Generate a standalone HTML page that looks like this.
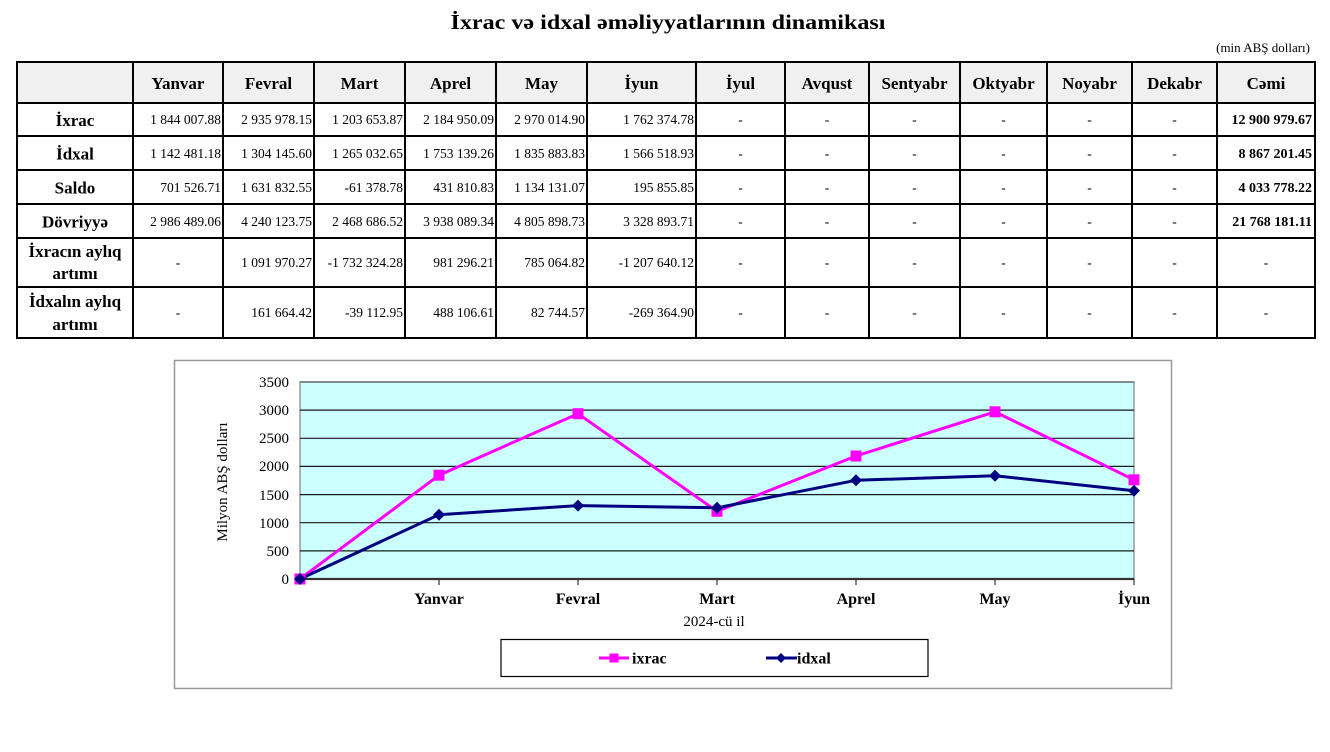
<!DOCTYPE html>
<html><head><meta charset="utf-8"><style>
html,body{margin:0;padding:0;background:#fff;}
svg{display:block;}
text{font-family:"Liberation Serif",serif;fill:#000;}
.h{font-weight:bold;font-size:17px;text-anchor:middle;}
.n{font-size:13.5px;text-anchor:end;}
.b{font-size:14px;font-weight:bold;text-anchor:end;}
.d{font-size:13.5px;text-anchor:middle;}
.t{font-size:15px;text-anchor:end;}
.x{font-size:16px;font-weight:bold;text-anchor:middle;}
</style></head><body>
<svg width="1330" height="752" viewBox="0 0 1330 752" xmlns="http://www.w3.org/2000/svg">
<rect width="1330" height="752" fill="#fff"/>
<text x="1309" y="0" style="font-size:18px;font-weight:bold;text-anchor:end">Cədvəl 1</text>
<text x="668" y="29" style="font-size:21px;font-weight:bold;text-anchor:middle" textLength="435" lengthAdjust="spacingAndGlyphs">İxrac və idxal əməliyyatlarının dinamikası</text>
<text x="1310" y="52" style="font-size:13px;text-anchor:end">(min ABŞ dolları)</text>

<!-- table -->
<rect x="17" y="62" width="1298" height="41" fill="#f0f0f0"/>
<g stroke="#000" stroke-width="2" fill="none">
<rect x="17" y="62" width="1298" height="276"/>
<line x1="17" y1="103" x2="1315" y2="103"/>
<line x1="17" y1="136" x2="1315" y2="136"/>
<line x1="17" y1="170" x2="1315" y2="170"/>
<line x1="17" y1="204" x2="1315" y2="204"/>
<line x1="17" y1="238" x2="1315" y2="238"/>
<line x1="17" y1="287" x2="1315" y2="287"/>
<line x1="133" y1="62" x2="133" y2="338"/>
<line x1="223" y1="62" x2="223" y2="338"/>
<line x1="314" y1="62" x2="314" y2="338"/>
<line x1="405" y1="62" x2="405" y2="338"/>
<line x1="496" y1="62" x2="496" y2="338"/>
<line x1="587" y1="62" x2="587" y2="338"/>
<line x1="696" y1="62" x2="696" y2="338"/>
<line x1="785" y1="62" x2="785" y2="338"/>
<line x1="869" y1="62" x2="869" y2="338"/>
<line x1="960" y1="62" x2="960" y2="338"/>
<line x1="1047" y1="62" x2="1047" y2="338"/>
<line x1="1132" y1="62" x2="1132" y2="338"/>
<line x1="1217" y1="62" x2="1217" y2="338"/>
</g>
<!-- header -->
<g class="h">
<text class="h" x="178" y="89">Yanvar</text>
<text class="h" x="268.5" y="89">Fevral</text>
<text class="h" x="359.5" y="89">Mart</text>
<text class="h" x="450.5" y="89">Aprel</text>
<text class="h" x="541.5" y="89">May</text>
<text class="h" x="641.5" y="89">İyun</text>
<text class="h" x="740.5" y="89">İyul</text>
<text class="h" x="827" y="89">Avqust</text>
<text class="h" x="914.5" y="89">Sentyabr</text>
<text class="h" x="1003.5" y="89">Oktyabr</text>
<text class="h" x="1089.5" y="89">Noyabr</text>
<text class="h" x="1174.5" y="89">Dekabr</text>
<text class="h" x="1266" y="89">Cəmi</text>
<text class="h" x="75" y="126">İxrac</text>
<text class="h" x="75" y="159.5">İdxal</text>
<text class="h" x="75" y="193.5">Saldo</text>
<text class="h" x="75" y="227.5">Dövriyyə</text>
<text class="h" x="75" y="257">İxracın aylıq</text>
<text class="h" x="75" y="279">artımı</text>
<text class="h" x="75" y="307">İdxalın aylıq</text>
<text class="h" x="75" y="330">artımı</text>
</g>
<!-- row 1 -->
<text class="n" x="221" y="124">1 844 007.88</text>
<text class="n" x="312" y="124">2 935 978.15</text>
<text class="n" x="403" y="124">1 203 653.87</text>
<text class="n" x="494" y="124">2 184 950.09</text>
<text class="n" x="585" y="124">2 970 014.90</text>
<text class="n" x="694" y="124">1 762 374.78</text>
<text class="b" x="1312" y="124">12 900 979.67</text>
<!-- row 2 -->
<text class="n" x="221" y="158">1 142 481.18</text>
<text class="n" x="312" y="158">1 304 145.60</text>
<text class="n" x="403" y="158">1 265 032.65</text>
<text class="n" x="494" y="158">1 753 139.26</text>
<text class="n" x="585" y="158">1 835 883.83</text>
<text class="n" x="694" y="158">1 566 518.93</text>
<text class="b" x="1312" y="158">8 867 201.45</text>
<!-- row 3 -->
<text class="n" x="221" y="192">701 526.71</text>
<text class="n" x="312" y="192">1 631 832.55</text>
<text class="n" x="403" y="192">-61 378.78</text>
<text class="n" x="494" y="192">431 810.83</text>
<text class="n" x="585" y="192">1 134 131.07</text>
<text class="n" x="694" y="192">195 855.85</text>
<text class="b" x="1312" y="192">4 033 778.22</text>
<!-- row 4 -->
<text class="n" x="221" y="226">2 986 489.06</text>
<text class="n" x="312" y="226">4 240 123.75</text>
<text class="n" x="403" y="226">2 468 686.52</text>
<text class="n" x="494" y="226">3 938 089.34</text>
<text class="n" x="585" y="226">4 805 898.73</text>
<text class="n" x="694" y="226">3 328 893.71</text>
<text class="b" x="1312" y="226">21 768 181.11</text>
<!-- row 5 -->
<text class="d" x="178" y="267">-</text>
<text class="n" x="312" y="267">1 091 970.27</text>
<text class="n" x="403" y="267">-1 732 324.28</text>
<text class="n" x="494" y="267">981 296.21</text>
<text class="n" x="585" y="267">785 064.82</text>
<text class="n" x="694" y="267">-1 207 640.12</text>
<text class="d" x="1266" y="267">-</text>
<!-- row 6 -->
<text class="d" x="178" y="317">-</text>
<text class="n" x="312" y="317">161 664.42</text>
<text class="n" x="403" y="317">-39 112.95</text>
<text class="n" x="494" y="317">488 106.61</text>
<text class="n" x="585" y="317">82 744.57</text>
<text class="n" x="694" y="317">-269 364.90</text>
<text class="d" x="1266" y="317">-</text>
<!-- dashes for empty months -->
<g class="d">
<text class="d" x="740.5" y="124">-</text><text class="d" x="827" y="124">-</text><text class="d" x="914.5" y="124">-</text><text class="d" x="1003.5" y="124">-</text><text class="d" x="1089.5" y="124">-</text><text class="d" x="1174.5" y="124">-</text>
<text class="d" x="740.5" y="158">-</text><text class="d" x="827" y="158">-</text><text class="d" x="914.5" y="158">-</text><text class="d" x="1003.5" y="158">-</text><text class="d" x="1089.5" y="158">-</text><text class="d" x="1174.5" y="158">-</text>
<text class="d" x="740.5" y="192">-</text><text class="d" x="827" y="192">-</text><text class="d" x="914.5" y="192">-</text><text class="d" x="1003.5" y="192">-</text><text class="d" x="1089.5" y="192">-</text><text class="d" x="1174.5" y="192">-</text>
<text class="d" x="740.5" y="226">-</text><text class="d" x="827" y="226">-</text><text class="d" x="914.5" y="226">-</text><text class="d" x="1003.5" y="226">-</text><text class="d" x="1089.5" y="226">-</text><text class="d" x="1174.5" y="226">-</text>
<text class="d" x="740.5" y="267">-</text><text class="d" x="827" y="267">-</text><text class="d" x="914.5" y="267">-</text><text class="d" x="1003.5" y="267">-</text><text class="d" x="1089.5" y="267">-</text><text class="d" x="1174.5" y="267">-</text>
<text class="d" x="740.5" y="317">-</text><text class="d" x="827" y="317">-</text><text class="d" x="914.5" y="317">-</text><text class="d" x="1003.5" y="317">-</text><text class="d" x="1089.5" y="317">-</text><text class="d" x="1174.5" y="317">-</text>
</g>

<!-- chart frame -->
<rect x="174.5" y="360.5" width="997" height="328" fill="#fff" stroke="#999" stroke-width="1.5"/>
<!-- plot area -->
<rect x="300" y="382" width="834" height="197" fill="#ccffff" stroke="#808080" stroke-width="1.2"/>
<g stroke="#1a1a1a" stroke-width="1.2">
<line x1="300" y1="410.1" x2="1134" y2="410.1"/>
<line x1="300" y1="438.3" x2="1134" y2="438.3"/>
<line x1="300" y1="466.4" x2="1134" y2="466.4"/>
<line x1="300" y1="494.6" x2="1134" y2="494.6"/>
<line x1="300" y1="522.7" x2="1134" y2="522.7"/>
<line x1="300" y1="550.9" x2="1134" y2="550.9"/>
</g>
<line x1="300" y1="382" x2="1134" y2="382" stroke="#555" stroke-width="1.2"/>
<line x1="300" y1="579" x2="1134" y2="579" stroke="#333" stroke-width="2.2"/>
<g stroke="#333" stroke-width="1.2">
<line x1="439" y1="579" x2="439" y2="585"/>
<line x1="578" y1="579" x2="578" y2="585"/>
<line x1="717" y1="579" x2="717" y2="585"/>
<line x1="856" y1="579" x2="856" y2="585"/>
<line x1="995" y1="579" x2="995" y2="585"/>
<line x1="1134" y1="579" x2="1134" y2="585"/>
</g>
<!-- y tick labels -->
<text class="t" x="289" y="387">3500</text>
<text class="t" x="289" y="415">3000</text>
<text class="t" x="289" y="443">2500</text>
<text class="t" x="289" y="471">2000</text>
<text class="t" x="289" y="500">1500</text>
<text class="t" x="289" y="528">1000</text>
<text class="t" x="289" y="556">500</text>
<text class="t" x="289" y="584">0</text>
<text x="0" y="0" transform="translate(227,482) rotate(-90)" style="font-size:15px;text-anchor:middle">Milyon ABŞ dolları</text>
<!-- x labels -->
<text class="x" x="439" y="604">Yanvar</text>
<text class="x" x="578" y="604">Fevral</text>
<text class="x" x="717" y="604">Mart</text>
<text class="x" x="856" y="604">Aprel</text>
<text class="x" x="995" y="604">May</text>
<text class="x" x="1134" y="604">İyun</text>
<text x="714" y="626" style="font-size:15px;text-anchor:middle">2024-cü il</text>

<!-- series -->
<polyline fill="none" stroke="#ff00ff" stroke-width="3" stroke-linejoin="round" points="300,579 439,475.2 578,413.7 717,511.3 856,456 995,411.8 1134,479.8"/>
<polyline fill="none" stroke="#000080" stroke-width="3" stroke-linejoin="round" points="300,579 439,514.7 578,505.6 717,507.8 856,480.3 995,475.7 1134,490.8"/>
<g fill="#ff00ff">
<rect x="294.5" y="573.5" width="11" height="11"/>
<rect x="433.5" y="469.7" width="11" height="11"/>
<rect x="572.5" y="408.2" width="11" height="11"/>
<rect x="711.5" y="505.8" width="11" height="11"/>
<rect x="850.5" y="450.5" width="11" height="11"/>
<rect x="989.5" y="406.3" width="11" height="11"/>
<rect x="1128.5" y="474.3" width="11" height="11"/>
</g>
<g fill="#000080">
<polygon points="300,573 306,579 300,585 294,579"/>
<polygon points="439,508.7 445,514.7 439,520.7 433,514.7"/>
<polygon points="578,499.6 584,505.6 578,511.6 572,505.6"/>
<polygon points="717,501.8 723,507.8 717,513.8 711,507.8"/>
<polygon points="856,474.3 862,480.3 856,486.3 850,480.3"/>
<polygon points="995,469.7 1001,475.7 995,481.7 989,475.7"/>
<polygon points="1134,484.8 1140,490.8 1134,496.8 1128,490.8"/>
</g>

<!-- legend -->
<rect x="501" y="639.5" width="427" height="37" fill="#fff" stroke="#000" stroke-width="1.2"/>
<line x1="599" y1="658" x2="629" y2="658" stroke="#ff00ff" stroke-width="3"/>
<rect x="609.5" y="653.5" width="9" height="9" fill="#ff00ff"/>
<text x="632" y="663.5" style="font-size:16px;font-weight:bold">ixrac</text>
<line x1="766" y1="658" x2="797" y2="658" stroke="#000080" stroke-width="3"/>
<polygon points="781,653 786,658 781,663 776,658" fill="#000080"/>
<text x="797" y="663.5" style="font-size:16px;font-weight:bold">idxal</text>
</svg>
</body></html>
